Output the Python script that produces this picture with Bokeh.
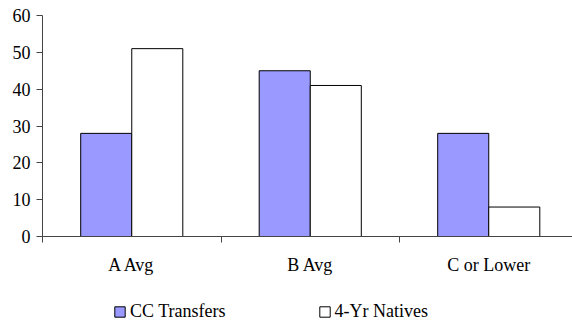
import numpy as np
from bokeh.plotting import figure
from bokeh.layouts import column
from bokeh.models import ColumnDataSource, FixedTicker, Legend, LegendItem, Range1d
from bokeh.embed import file_html
from bokeh.resources import INLINE

categories = ["A Avg", "B Avg", "C or Lower"]
cc_transfers = [28, 45, 28]
yr4_natives = [51, 41, 8]
series_names = ["CC Transfers", "4-Yr Natives"]
y_ticks = [0, 10, 20, 30, 40, 50, 60]

FONT = "'Liberation Serif', 'Times New Roman', serif"
CC_COLOR = "#9999FF"
NAT_COLOR = "#FFFFFF"
centers = np.arange(len(categories)) + 0.5
bw = 0.286

src = ColumnDataSource(dict(
    x1=centers - bw / 2, x2=centers + bw / 2,
    cc=cc_transfers, nat=yr4_natives,
))

# visible part of the category axis: the last group is cut at the window edge
x_end = len(categories) * (530.0 / 535.5)

p = figure(width=572, height=280, output_backend="svg", toolbar_location=None,
           x_range=Range1d(0, x_end), y_range=Range1d(0, 60),
           min_border_left=42, min_border_right=0, min_border_top=15,
           min_border_bottom=44)
p.outline_line_color = None
p.xgrid.grid_line_color = None
p.ygrid.grid_line_color = None

p.vbar(x="x1", top="cc", width=bw, source=src, fill_color=CC_COLOR,
       line_color="#000000", line_width=1)
p.vbar(x="x2", top="nat", width=bw, source=src, fill_color=NAT_COLOR,
       line_color="#000000", line_width=1)

p.xaxis.ticker = FixedTicker(ticks=list(centers), minor_ticks=list(range(len(categories) + 1)))
p.xaxis.major_label_overrides = {float(c): lab for c, lab in zip(centers, categories)}
p.xaxis.major_tick_line_color = None
p.xaxis.minor_tick_in = 0
p.xaxis.minor_tick_out = 6
p.xaxis.minor_tick_line_color = "#444444"
p.xaxis.axis_line_color = "#444444"
p.xaxis.major_label_standoff = 12
p.xaxis.major_label_text_font = FONT
p.xaxis.major_label_text_font_size = "18px"
p.xaxis.major_label_text_color = "#000000"

p.yaxis.ticker = FixedTicker(ticks=y_ticks, minor_ticks=[])
p.yaxis.major_tick_in = 0
p.yaxis.major_tick_out = 6
p.yaxis.major_tick_line_color = "#444444"
p.yaxis.axis_line_color = "#444444"
p.yaxis.major_label_standoff = 6
p.yaxis.major_label_text_font = FONT
p.yaxis.major_label_text_font_size = "18px"
p.yaxis.major_label_text_color = "#000000"

# legend strip below the chart (swatch renderers sit outside the visible range)
p2 = figure(width=572, height=40, output_backend="svg", toolbar_location=None,
            x_axis_type=None, y_axis_type=None,
            x_range=Range1d(0, 1), y_range=Range1d(0, 1),
            min_border=0)
p2.outline_line_color = None
p2.grid.visible = False
g1 = p2.vbar(x=[-5], top=[-5], width=0.1, fill_color=CC_COLOR, line_color="#000000")
g2 = p2.vbar(x=[-5], top=[-5], width=0.1, fill_color=NAT_COLOR, line_color="#000000")

legend = Legend(items=[LegendItem(label=series_names[0], renderers=[g1]),
                       LegendItem(label=series_names[1], renderers=[g2])],
                orientation="horizontal", location=(71, -2),
                label_text_font=FONT, label_text_font_size="18px",
                label_text_color="#000000",
                glyph_width=13, glyph_height=13, label_standoff=4,
                spacing=92, padding=0, margin=0, border_line_color=None,
                background_fill_alpha=0, label_height=16)
p2.add_layout(legend, "center")

layout = column(p, p2, spacing=0)
open("out.html", "w").write(file_html(layout, INLINE))
